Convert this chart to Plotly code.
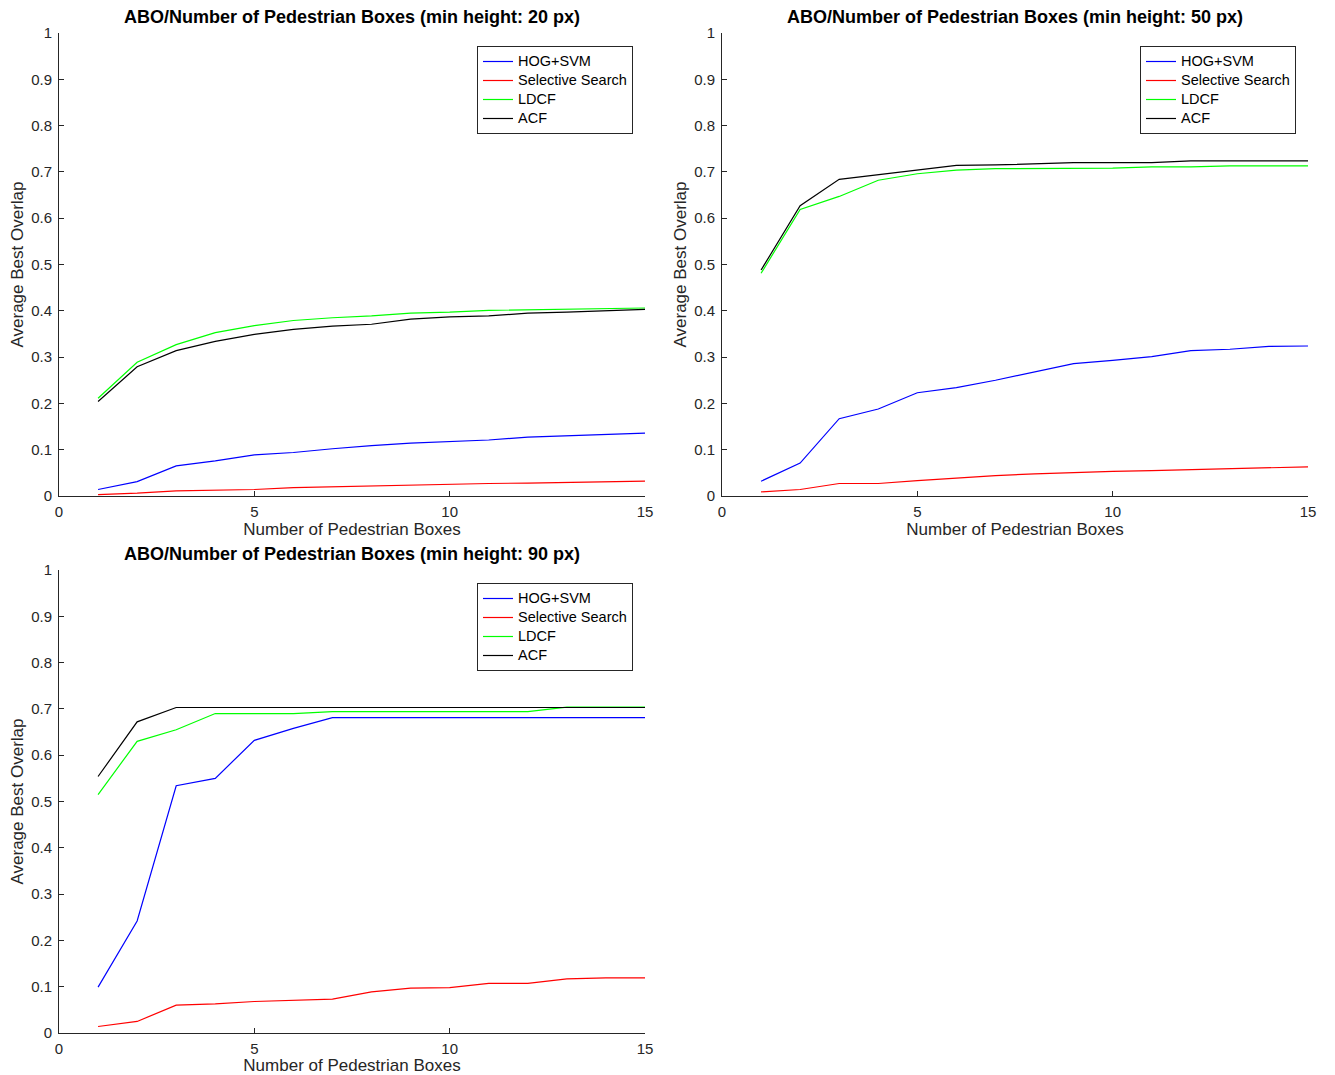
import plotly.graph_objects as go

# Number of pedestrian boxes considered
boxes = list(range(1, 16))

methods = ["HOG+SVM", "Selective Search", "LDCF", "ACF"]
colors = ["#0000ff", "#ff0000", "#00ff00", "#000000"]

# Average best overlap, min height 20 px
abo_20_hog = [0.014, 0.031, 0.065, 0.076, 0.089, 0.094, 0.102, 0.109, 0.114, 0.117,
              0.121, 0.127, 0.130, 0.134, 0.136]
abo_20_ss = [0.003, 0.006, 0.011, 0.012, 0.014, 0.018, 0.020, 0.022, 0.024, 0.026,
             0.027, 0.028, 0.029, 0.031, 0.032]
abo_20_ldcf = [0.211, 0.289, 0.327, 0.353, 0.368, 0.379, 0.385, 0.389, 0.395, 0.397,
               0.401, 0.402, 0.404, 0.405, 0.406]
abo_20_acf = [0.204, 0.279, 0.314, 0.334, 0.349, 0.360, 0.367, 0.371, 0.382, 0.387,
              0.389, 0.395, 0.397, 0.400, 0.403]

# Average best overlap, min height 50 px
abo_50_hog = [0.032, 0.071, 0.167, 0.188, 0.223, 0.234, 0.250, 0.268, 0.286, 0.293,
              0.301, 0.314, 0.317, 0.323, 0.324]
abo_50_ss = [0.009, 0.014, 0.027, 0.027, 0.033, 0.039, 0.044, 0.048, 0.051, 0.053,
             0.055, 0.057, 0.060, 0.062, 0.063]
abo_50_ldcf = [0.481, 0.619, 0.647, 0.682, 0.696, 0.704, 0.707, 0.707, 0.708, 0.708,
               0.711, 0.711, 0.713, 0.713, 0.713]
abo_50_acf = [0.488, 0.627, 0.684, 0.694, 0.703, 0.714, 0.715, 0.717, 0.720, 0.720,
              0.720, 0.724, 0.724, 0.724, 0.724]

# Average best overlap, min height 90 px
abo_90_hog = [0.099, 0.242, 0.534, 0.550, 0.632, 0.658, 0.681, 0.681, 0.681, 0.681,
              0.681, 0.681, 0.681, 0.681, 0.681]
abo_90_ss = [0.014, 0.025, 0.060, 0.063, 0.068, 0.071, 0.073, 0.089, 0.097, 0.098,
             0.107, 0.107, 0.117, 0.119, 0.119]
abo_90_ldcf = [0.515, 0.630, 0.655, 0.690, 0.690, 0.690, 0.694, 0.694, 0.694, 0.694,
               0.694, 0.694, 0.704, 0.704, 0.704]
abo_90_acf = [0.554, 0.672, 0.703, 0.703, 0.703, 0.703, 0.703, 0.703, 0.703, 0.703,
              0.703, 0.703, 0.703, 0.703, 0.703]

panels = [
    ("20", [abo_20_hog, abo_20_ss, abo_20_ldcf, abo_20_acf]),
    ("50", [abo_50_hog, abo_50_ss, abo_50_ldcf, abo_50_acf]),
    ("90", [abo_90_hog, abo_90_ss, abo_90_ldcf, abo_90_acf]),
]

W, H = 1335, 1075
# panel boxes in pixels: (left, right, top, bottom)
boxes_px = [(59, 645, 33, 496), (722, 1308, 33, 496), (59, 645, 570, 1033)]

FONT = "Liberation Sans, Arial, Helvetica, sans-serif"
AXIS_COLOR = "#262626"

fig = go.Figure()
layout = dict(
    width=W, height=H,
    margin=dict(l=0, r=0, t=0, b=0, autoexpand=False),
    paper_bgcolor="white", plot_bgcolor="white",
    font=dict(family=FONT, size=15, color=AXIS_COLOR),
    annotations=[],
)

for i, ((h, series), (l, r, t, b)) in enumerate(zip(panels, boxes_px)):
    idx = "" if i == 0 else str(i + 1)
    xa, ya = "x" + idx, "y" + idx
    leg = "legend" + idx
    for name, col, vals in zip(methods, colors, series):
        fig.add_trace(go.Scatter(
            x=boxes, y=vals, mode="lines",
            name=f'<span style="font-size:14.5px">{name}</span>',
            line=dict(color=col, width=1.2),
            xaxis=xa, yaxis=ya, legend=leg,
        ))
    axis_common = dict(
        showline=True, linecolor=AXIS_COLOR, linewidth=1,
        ticks="inside", ticklen=5, tickcolor=AXIS_COLOR,
        showgrid=False, zeroline=False, mirror=False, automargin=False,
        tickfont=dict(size=15, color=AXIS_COLOR, family=FONT),
    )
    layout["xaxis" + idx] = dict(
        axis_common, domain=[l / W, r / W], range=[0, 15],
        tickvals=[0, 5, 10, 15], anchor=ya, ticklabelstandoff=2,
        title=dict(text="Number of Pedestrian Boxes", standoff=4,
                   font=dict(size=17, color=AXIS_COLOR, family=FONT)),
    )
    layout["yaxis" + idx] = dict(
        axis_common, domain=[1 - b / H, 1 - t / H], range=[0, 1],
        tickvals=[k / 10 for k in range(11)],
        ticktext=["0"] + [f"{k / 10:.1f}" for k in range(1, 10)] + ["1"],
        anchor=xa, ticklabelstandoff=3,
        title=dict(text="Average Best Overlap", standoff=3,
                   font=dict(size=17, color=AXIS_COLOR, family=FONT)),
    )
    layout[leg] = dict(
        x=(r - 12) / W, y=1 - (t + 13) / H, xanchor="right", yanchor="top",
        bgcolor="white", bordercolor=AXIS_COLOR, borderwidth=1,
        font=dict(size=11, color="black", family=FONT),
        tracegroupgap=0, itemwidth=30,
    )
    layout["annotations"].append(dict(
        text=f"<b>ABO/Number of Pedestrian Boxes (min height: {h} px)</b>",
        x=(l + r) / 2 / W, y=1 - (t - 16) / H, xref="paper", yref="paper",
        xanchor="center", yanchor="middle", showarrow=False,
        font=dict(size=18, color="black", family=FONT),
    ))

fig.update_layout(**layout)
fig.write_html("out.html")
